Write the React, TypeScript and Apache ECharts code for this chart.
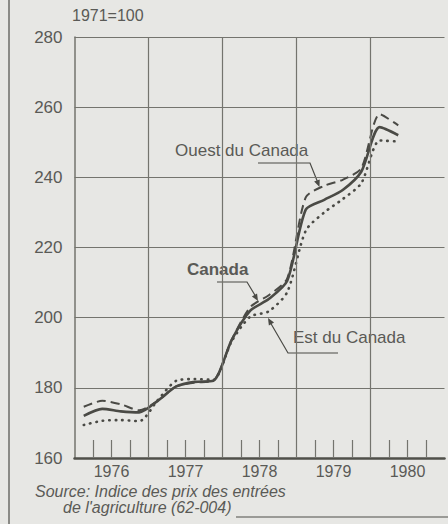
import React, { useEffect, useRef } from "react";
import * as echarts from "echarts";

// Quarterly periods (T1..T4) from 1976 to mid-1980
const quarters = [
  "1976-T1", "1976-T2", "1976-T3", "1976-T4",
  "1977-T1", "1977-T2", "1977-T3", "1977-T4",
  "1978-T1", "1978-T2", "1978-T3", "1978-T4",
  "1979-T1", "1979-T2", "1979-T3", "1979-T4",
  "1980-T1", "1980-T2",
];

// Farm input price index, 1971=100
const canada = [172.0, 174.0, 173.3, 173.0, 176.3, 180.4, 181.7, 182.0, 193.7, 202.0, 205.3, 210.5, 230.8, 233.6, 236.4, 241.6, 254.3, 252.0];
const ouest = [174.6, 176.3, 175.3, 173.6, 176.3, 180.4, 181.5, 182.0, 193.7, 203.0, 206.4, 211.2, 234.3, 237.6, 239.3, 242.6, 258.0, 254.8];
const est = [169.4, 170.6, 170.8, 170.5, 176.5, 182.0, 182.5, 182.3, 193.3, 200.3, 201.8, 207.3, 224.8, 230.0, 233.8, 238.3, 250.5, 250.2];

const yearLabels = ["1976", "1977", "1978", "1979", "1980"];
const yearBounds = [1977, 1978, 1979, 1980];

const TEXT = "#5a5a56";
const LINE = "#4a4a45";
const GRID = "#74746e";
const FONT = "'Liberation Sans', Arial, Helvetica, sans-serif";

const toT = (q: string) => {
  const [y, t] = q.split("-T");
  return Number(y) + (Number(t) - 0.5) / 4;
};
const pts = (vals: number[]) => quarters.map((q, i) => [toT(q), vals[i]]);

export default function App() {
  const ref = useRef<HTMLDivElement>(null);

  useEffect(() => {
    document.body.style.margin = "0";
    document.body.style.background = "#e7e7e4";
    if (!ref.current) return;
    const chart = echarts.init(ref.current, undefined, { renderer: "svg" });

    const arrow = (tip: number[], from: number[]) => {
      const dx = tip[0] - from[0];
      const dy = tip[1] - from[1];
      const len = Math.hypot(dx, dy);
      const ux = dx / len, uy = dy / len;
      const px = -uy, py = ux;
      const bx = tip[0] - 7 * ux, by = tip[1] - 7 * uy;
      return {
        type: "polygon",
        silent: true,
        shape: { points: [tip, [bx + 3 * px, by + 3 * py], [bx - 3 * px, by - 3 * py]] },
        style: { fill: LINE },
      };
    };
    const leader = (points: number[][]) => ({
      type: "polyline",
      silent: true,
      shape: { points },
      style: { stroke: LINE, lineWidth: 1.2, fill: null },
    });
    const txt = (text: string, x: number, y: number, size: number, extra: any = {}) => ({
      type: "text",
      silent: true,
      x,
      y,
      style: {
        text,
        fill: TEXT,
        fontSize: size,
        fontFamily: FONT,
        textVerticalAlign: "middle",
        verticalAlign: "middle",
        ...extra,
      },
    });

    chart.setOption({
      animation: false,
      backgroundColor: "#e7e7e4",
      grid: { left: 74.5, right: 3.5, top: 37, bottom: 66, containLabel: false },
      xAxis: [
        {
          type: "value",
          min: 1976,
          max: 1981,
          interval: 1,
          position: "bottom",
          axisLine: { show: true, onZero: false, lineStyle: { color: "#50504a", width: 2.5 } },
          axisTick: { show: false, inside: true },
          minorTick: { show: true, splitNumber: 4, length: 18, lineStyle: { color: GRID, width: 1.2 } },
          axisLabel: { show: false },
          splitLine: { show: false },
        },
        {
          type: "category",
          data: yearLabels,
          boundaryGap: true,
          position: "bottom",
          axisLine: { show: false },
          axisTick: { show: false },
          splitLine: { show: false },
          axisLabel: { color: TEXT, fontSize: 16, fontFamily: FONT, margin: 5 },
        },
      ],
      yAxis: {
        type: "value",
        min: 160,
        max: 280,
        interval: 20,
        axisLine: { show: true, lineStyle: { color: GRID, width: 1.5 } },
        axisTick: { show: false },
        axisLabel: { color: TEXT, fontSize: 17, fontFamily: FONT, margin: 12 },
        splitLine: { show: true, lineStyle: { color: GRID, width: 1.2 } },
      },
      series: [
        {
          name: "Est du Canada",
          type: "line",
          xAxisIndex: 0,
          data: pts(est),
          showSymbol: false,
          smooth: 0.25,
          lineStyle: { color: LINE, width: 2.6, type: [0.5, 6], cap: "round" },
          markLine: {
            silent: true,
            symbol: "none",
            label: { show: false },
            lineStyle: { color: GRID, width: 1.2, type: "solid" },
            data: yearBounds.map((v) => ({ xAxis: v })),
          },
        },
        {
          name: "Ouest du Canada",
          type: "line",
          xAxisIndex: 0,
          data: pts(ouest),
          showSymbol: false,
          smooth: 0.25,
          lineStyle: { color: LINE, width: 2, type: [9, 5] },
        },
        {
          name: "Canada",
          type: "line",
          xAxisIndex: 0,
          data: pts(canada),
          showSymbol: false,
          smooth: 0.25,
          lineStyle: { color: LINE, width: 2.6 },
        },
      ],
      graphic: [
        { type: "line", silent: true, shape: { x1: 9, y1: 0, x2: 9, y2: 524 }, style: { stroke: "#8a8a86", lineWidth: 2 } },
        { type: "line", silent: true, shape: { x1: 236, y1: 517, x2: 448, y2: 517 }, style: { stroke: "#9a9a96", lineWidth: 2 } },
        txt("1971=100", 72, 15, 16),
        txt("Ouest du Canada", 175, 150, 17),
        leader([[258, 163], [310, 163], [318, 183]]),
        arrow([319.5, 187], [310, 163]),
        txt("Canada", 187, 269, 17, { fontWeight: "bold" }),
        leader([[217, 282], [247, 282], [256, 297]]),
        arrow([258, 301], [247, 282]),
        txt("Est du Canada", 293, 337, 17),
        leader([[270, 322], [288, 353], [338, 353]]),
        arrow([268, 318], [288, 353]),
        txt("Source: Indice des prix des entrées", 35, 491, 16, { fontStyle: "italic" }),
        txt("de l'agriculture (62-004)", 63, 507, 16, { fontStyle: "italic" }),
      ],
    });

    return () => chart.dispose();
  }, []);

  return <div ref={ref} style={{ width: 448, height: 524 }} />;
}
